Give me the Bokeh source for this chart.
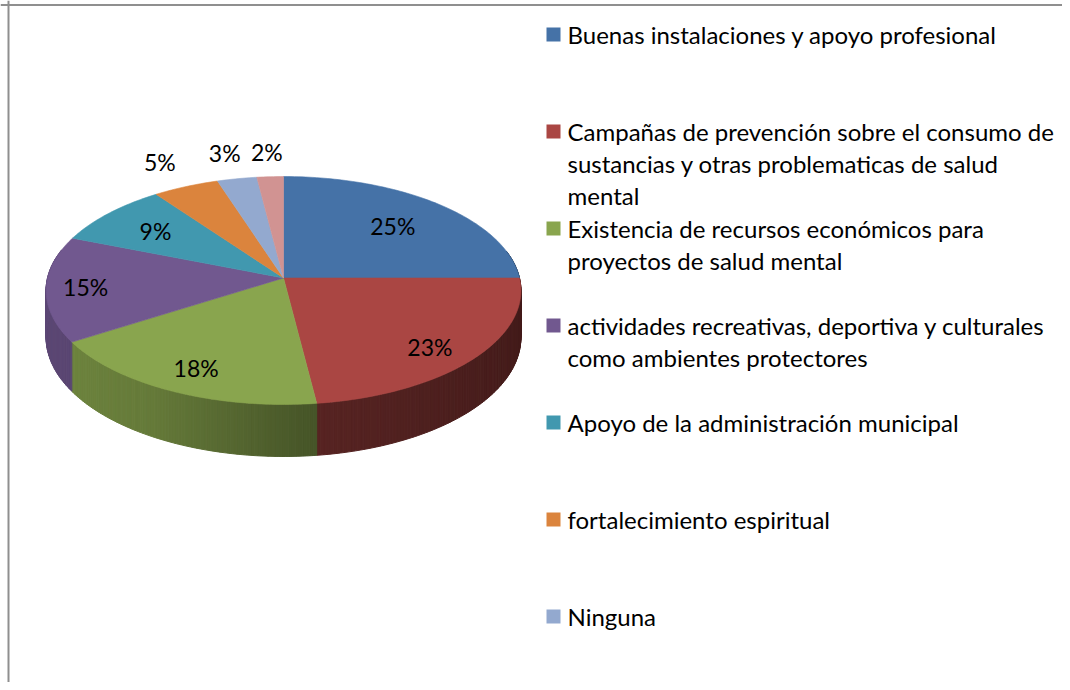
import numpy as np
from bokeh.plotting import figure
from bokeh.models import Range1d, Span
from bokeh.core.properties import value
from bokeh.embed import file_html
from bokeh.resources import INLINE

# ---------------- data ----------------
values = [25, 23, 18, 15, 9, 5, 3, 2]
pct_labels = ["25%", "23%", "18%", "15%", "9%", "5%", "3%", "2%"]
colors = ["#4572A7", "#AA4643", "#89A54E", "#71588F", "#4198AF", "#DB843D", "#93A9CF", "#D19392"]
legend_lines = [
    ["Buenas instalaciones y apoyo profesional"],
    ["Campañas de prevención sobre el consumo de", "sustancias y otras problematicas de salud", "mental"],
    ["Existencia de recursos económicos para", "proyectos de salud mental"],
    ["actividades recreativas, deportiva y culturales", "como ambientes protectores"],
    ["Apoyo de la administración municipal"],
    ["fortalecimiento espiritual"],
    ["Ninguna"],
]

# ---------------- layout / style ----------------
W, H_PX = 1062, 682
CX, CY = 283.0, 277.5      # pie centre (px)
RA, RB = 236.0, 112.6      # horizontal / depth radii
KP = 0.1097                # perspective strength
DEPTH = 46.3               # side height
label_r = [0.69, 0.78, 0.80, 0.835, 0.72, 1.30, 1.30, 1.28]
label_z = [0.0, 0.16, 0.02, 0.0, 0.0, 0.0, 0.0, 0.0]
FONT = "Lato"

p = figure(width=W, height=H_PX, x_range=Range1d(0, W), y_range=Range1d(H_PX, 0),
           output_backend="svg", toolbar_location=None, min_border=0)
p.axis.visible = False
p.grid.visible = False
p.outline_line_color = None
p.background_fill_color = "white"


def proj(phi_deg, r=1.0, z=0.0):
    ph = np.radians(phi_deg)
    x = r * np.sin(ph)
    y = -r * np.cos(ph)
    w = 1 - KP * y
    return CX + RA * x / w, CY + (RB * y + DEPTH * z) / w


def hex_rgb(h):
    h = h.lstrip("#")
    return tuple(int(h[i:i + 2], 16) for i in (0, 2, 4))


def shade(h, f):
    r, g, b = hex_rgb(h)
    return "#%02x%02x%02x" % (int(r * f), int(g * f), int(b * f))


total = float(sum(values))
cum = np.concatenate([[0.0], np.cumsum(values)]) / total * 360.0

# ---- side strips ----
sxs, sys_, scol = [], [], []
for i in range(len(values)):
    a0, a1 = cum[i], cum[i + 1]
    n = max(2, int((a1 - a0) / 0.75) + 1)
    ph = np.linspace(a0, a1, n)
    for j in range(n - 1):
        m = 0.5 * (ph[j] + ph[j + 1])
        if -np.cos(np.radians(m)) < -0.25:
            continue
        xt0, yt0 = proj(ph[j])
        xt1, yt1 = proj(ph[j + 1])
        xb1, yb1 = proj(ph[j + 1], z=1.0)
        xb0, yb0 = proj(ph[j], z=1.0)
        nx = np.sin(np.radians(m))
        f = float(np.interp(nx, [-1.0, -0.5, 0.1, 1.0], [0.82, 0.74, 0.52, 0.40]))
        sxs.append([xt0, xt1, xb1, xb0])
        sys_.append([yt0, yt1, yb1, yb0])
        scol.append(shade(colors[i], f))
p.patches(sxs, sys_, fill_color=scol, line_color=scol, line_width=1)

# ---- top faces ----
txs, tys = [], []
for i in range(len(values)):
    ph = np.linspace(cum[i], cum[i + 1], max(3, int(cum[i + 1] - cum[i]) + 2))
    x, y = proj(ph)
    txs.append([CX] + list(x))
    tys.append([CY] + list(y))
p.patches(txs, tys, fill_color=colors, line_color=colors, line_width=0.6)

# ---- percentage labels ----
mids = 0.5 * (cum[:-1] + cum[1:])
lx, ly = [], []
for i, m in enumerate(mids):
    x, y = proj(m, r=label_r[i], z=label_z[i])
    lx.append(x)
    ly.append(y)
p.text(x=lx, y=ly, text=pct_labels, text_align="center", text_baseline="middle",
       text_font=value(FONT), text_font_size="23px", text_color="black")

# ---- legend ----
LEG_Y0, LEG_STEP, LINE_STEP = 34, 97, 32
sq_y, tx, ty, tt = [], [], [], []
for i, lines in enumerate(legend_lines):
    y0 = LEG_Y0 + LEG_STEP * i
    sq_y.append(y0)
    for k, ln in enumerate(lines):
        tx.append(567)
        ty.append(y0 + LINE_STEP * k)
        tt.append(ln)
p.scatter(x=[553] * len(sq_y), y=sq_y, marker="square", size=14,
          fill_color=colors[:len(sq_y)], line_color=None)
p.text(x=tx, y=ty, text=tt, text_align="left", text_baseline="middle",
       text_font=value(FONT), text_font_size="24px", text_color="black")

# ---- chart border (top & left visible) ----
p.add_layout(Span(location=4.5, dimension="width", line_color="#8f8f8f", line_width=2))
p.add_layout(Span(location=8, dimension="height", line_color="#8f8f8f", line_width=2))

open("out.html", "w").write(file_html(p, INLINE))
